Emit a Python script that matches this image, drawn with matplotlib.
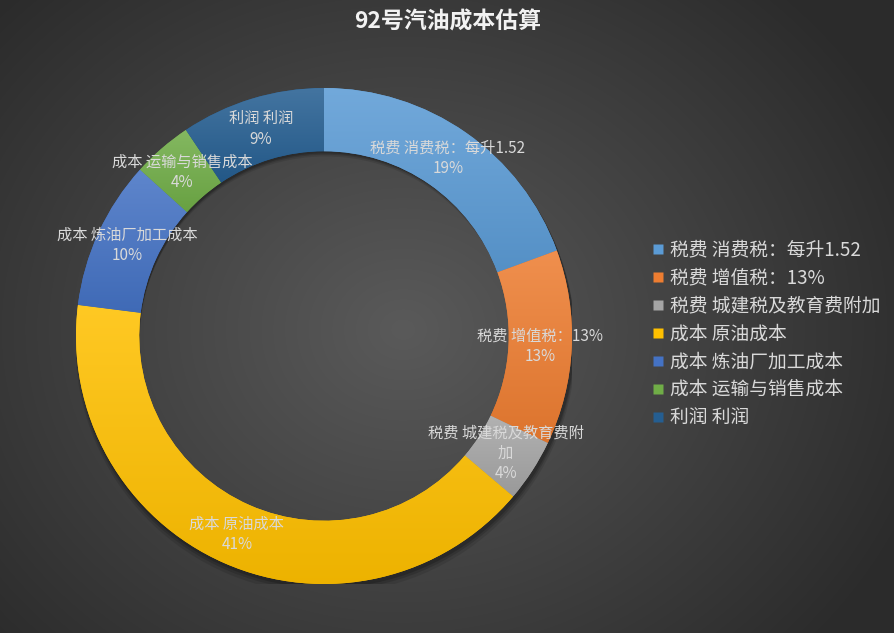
import numpy as np
import matplotlib
matplotlib.use("Agg")
import matplotlib.pyplot as plt
from matplotlib.colors import to_rgb
from matplotlib.lines import Line2D
from matplotlib.patches import Wedge

plt.rcParams['font.family'] = ['Noto Sans CJK SC', 'DejaVu Sans']

title = "92号汽油成本估算"
groups = ["税费", "税费", "税费", "成本", "成本", "成本", "利润"]
items = ["消费税：每升1.52", "增值税：13%", "城建税及教育费附加", "原油成本",
         "炼油厂加工成本", "运输与销售成本", "利润"]
shares = [19.4, 12.7, 4.1, 40.8, 9.7, 3.9, 9.4]
colors = ["#5B9BD5", "#ED7D31", "#A5A5A5", "#FFC000", "#4472C4", "#70AD47", "#255E91"]

labels = [g + " " + it for g, it in zip(groups, items)]
W, H = 895, 633
RING = 0.255


def mix(c, other, t):
    c = np.array(to_rgb(c))
    return c * (1 - t) + np.array(other) * t


def wrap(s, limit=11.0):
    # Excel-like wrapping: CJK chars count 1, ascii about half
    out, line, w = [], "", 0.0
    for ch in s:
        cw = 0.55 if ord(ch) < 128 else 1.0
        if w + cw > limit and line:
            out.append(line)
            line, w = "", 0.0
        line += ch
        w += cw
    out.append(line)
    return "\n".join(out)


fig = plt.figure(figsize=(W / 100, H / 100), dpi=100)

# background radial gradient
bg = fig.add_axes([0, 0, 1, 1])
bg.axis("off")
yy, xx = np.mgrid[0:H, 0:W]
rr = np.hypot((xx - W * 0.45) / (W * 0.62), (yy - H * 0.52) / (H * 0.75))
rr = np.clip(rr, 0, 1)
inner = np.array(to_rgb("#5a5a5a"))
outer = np.array(to_rgb("#2b2b2b"))
img = inner[None, None, :] * (1 - rr[..., None]) + outer[None, None, :] * rr[..., None]
bg.imshow(img, extent=(0, 1, 0, 1), aspect="auto", origin="upper")
bg.set_xlim(0, 1)
bg.set_ylim(0, 1)

# donut axes: center (324, 336) px, radius 248 px
cx, cy, R = 324, 336, 248
ax = fig.add_axes([(cx - R) / W, (H - cy - R) / H, 2 * R / W, 2 * R / H])
ax.axis("off")

# soft shadow behind the ring
for k, a in zip([0.03, 0.02, 0.012], [0.10, 0.14, 0.18]):
    ax.add_patch(Wedge((0.006, -k), 1.0 + k * 0.3, 0, 360, width=RING,
                       facecolor="black", edgecolor="none", alpha=a, zorder=0))

wedges, _ = ax.pie(shares, colors=colors, startangle=90, counterclock=False,
                   radius=1.0, wedgeprops=dict(width=RING, edgecolor="none"))

for w, c in zip(wedges, colors):
    w.set_zorder(1)
    ext = w.get_path().get_extents()
    top = mix(c, (1, 1, 1), 0.14)
    bot = mix(c, (0, 0, 0), 0.07)
    t = np.linspace(0, 1, 200)[:, None, None]
    grad = top[None, None, :] * (1 - t) + bot[None, None, :] * t
    im = ax.imshow(grad, extent=(ext.x0, ext.x1, ext.y0, ext.y1), origin="upper",
                   aspect="auto", zorder=2)
    im.set_clip_path(w)

total = sum(shares)
rmid = 1 - RING / 2
for w, lab, v in zip(wedges, labels, shares):
    ang = np.deg2rad((w.theta1 + w.theta2) / 2)
    ax.text(rmid * np.cos(ang), rmid * np.sin(ang),
            wrap(lab) + "\n" + f"{round(v / total * 100):d}%",
            ha="center", va="center", fontsize=11, color="#D9D9D9",
            linespacing=1.25, zorder=5)

ax.set_xlim(-1, 1)
ax.set_ylim(-1, 1)
ax.set_aspect("equal")

fig.text(0.5, 1 - 22 / H, title, ha="center", va="center", fontsize=16.5,
         fontweight="bold", color="#F2F2F2")

handles = [Line2D([], [], marker="s", linestyle="none", markerfacecolor=c,
                  markeredgecolor="none", markersize=7) for c in colors]
fig.legend(handles, labels, loc="upper left", bbox_to_anchor=(641 / W, 1 - 232 / H),
           frameon=False, fontsize=13.5, labelcolor="#D9D9D9", handletextpad=0.15,
           labelspacing=0.37, borderaxespad=0, handlelength=1.0)

fig.savefig("out.png", dpi=100)
